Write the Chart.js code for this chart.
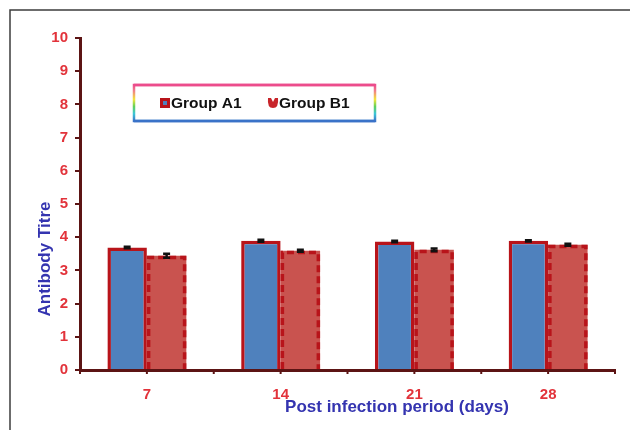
<!DOCTYPE html>
<html>
<head>
<meta charset="utf-8">
<script src="https://cdn.jsdelivr.net/npm/chart.js@4/dist/chart.umd.min.js"></script>
<style>
  html, body { margin: 0; padding: 0; background: #ffffff; }
  #wrap { position: relative; width: 630px; height: 430px; }
  canvas { display: block; }
</style>
</head>
<body>
<div id="wrap"><canvas id="c" width="630" height="430"></canvas></div>
<script>
const categories = ['7', '14', '21', '28'];
const seriesNames = ['Group A1', 'Group B1'];
const groupA1 = [3.69, 3.89, 3.87, 3.89];
const groupB1 = [3.44, 3.59, 3.62, 3.77];
const errA1 = [0.02, 0.03, 0.02, 0.02];
const errB1 = [0.06, 0.03, 0.04, 0.03];
const yMin = 0, yMax = 10, yStep = 1;
const xTitle = 'Post infection period (days)';
const yTitle = 'Antibody Titre';

const FONT = '"Liberation Sans", Arial, sans-serif';
const AXIS = '#5c1414';
const TICKRED = '#e2333b';
const TITLEBLUE = '#3434b0';
const BORDERRED = '#b8141a';

const errors = [errA1, errB1];

const decoPlugin = {
  id: 'deco',
  beforeDraw(chart) {
    const ctx = chart.ctx;
    ctx.save();
    ctx.strokeStyle = '#3c3c3c';
    ctx.lineWidth = 1.5;
    ctx.beginPath();
    ctx.moveTo(10, 430);
    ctx.lineTo(10, 10);
    ctx.lineTo(630, 10);
    ctx.stroke();
    ctx.restore();
  },
  afterDatasetsDraw(chart) {
    const ctx = chart.ctx;
    const ys = chart.scales.y;
    const metaB = chart.getDatasetMeta(1);
    ctx.save();
    ctx.strokeStyle = BORDERRED;
    ctx.lineWidth = 3.5;
    ctx.setLineDash([7, 4]);
    metaB.data.forEach(el => {
      const l = el.x - el.width / 2 + 1.75, r = el.x + el.width / 2 - 1.75;
      const t = el.y + 1.75, b = el.base;
      ctx.beginPath();
      ctx.moveTo(l, b);
      ctx.lineTo(l, t);
      ctx.lineTo(r, t);
      ctx.lineTo(r, b);
      ctx.stroke();
    });
    ctx.restore();
    ctx.save();
    ctx.strokeStyle = '#111';
    ctx.lineWidth = 2.5;
    chart.data.datasets.forEach((ds, di) => {
      const meta = chart.getDatasetMeta(di);
      meta.data.forEach((el, i) => {
        const v = ds.data[i], e = errors[di][i];
        const yt = ys.getPixelForValue(v + e), yb = ys.getPixelForValue(v - e);
        ctx.beginPath();
        ctx.moveTo(el.x, yt); ctx.lineTo(el.x, yb);
        ctx.moveTo(el.x - 3.5, yt); ctx.lineTo(el.x + 3.5, yt);
        ctx.moveTo(el.x - 3.5, yb); ctx.lineTo(el.x + 3.5, yb);
        ctx.stroke();
      });
    });
    ctx.restore();
  },
  afterDraw(chart) {
    const ctx = chart.ctx;
    const xs = chart.scales.x;
    const area = chart.chartArea;
    ctx.save();
    ctx.strokeStyle = AXIS;
    ctx.lineWidth = 2;
    const half = (xs.getPixelForValue(1) - xs.getPixelForValue(0)) / 2;
    for (let k = 0; k <= categories.length * 2; k++) {
      const px = xs.getPixelForValue(0) - half + k * half;
      ctx.beginPath();
      ctx.moveTo(px, area.bottom);
      ctx.lineTo(px, area.bottom + 4);
      ctx.stroke();
    }
    ctx.restore();
    ctx.save();
    ctx.fillStyle = TITLEBLUE;
    ctx.font = 'bold 17px ' + FONT;
    ctx.textAlign = 'center';
    ctx.textBaseline = 'middle';
    ctx.fillText(xTitle, 397, 407);
    ctx.translate(45, 259);
    ctx.rotate(-Math.PI / 2);
    ctx.fillText(yTitle, 0, 0);
    ctx.restore();
    ctx.save();
    const bx = 134, by = 85, bw = 241, bh = 36;
    const g = ctx.createLinearGradient(0, by, 0, by + bh);
    g.addColorStop(0, '#ec4c8c');
    g.addColorStop(0.15, '#f07a8a');
    g.addColorStop(0.4, '#f3e53a');
    g.addColorStop(0.6, '#5fd05a');
    g.addColorStop(0.8, '#3cc6d8');
    g.addColorStop(1, '#3a72c8');
    ctx.lineWidth = 2.5;
    ctx.strokeStyle = g;
    ctx.strokeRect(bx, by, bw, bh);
    ctx.strokeStyle = '#ec4c8c';
    ctx.beginPath(); ctx.moveTo(bx, by); ctx.lineTo(bx + bw, by); ctx.stroke();
    ctx.strokeStyle = '#3a72c8';
    ctx.beginPath(); ctx.moveTo(bx, by + bh); ctx.lineTo(bx + bw, by + bh); ctx.stroke();
    const cy = 103;
    ctx.fillStyle = BORDERRED;
    ctx.fillRect(160, cy - 5, 10, 10);
    ctx.fillStyle = '#4f81bd';
    ctx.fillRect(163, cy - 2, 4, 4);
    ctx.fillStyle = '#c8242a';
    ctx.beginPath();
    ctx.moveTo(268, cy - 5);
    ctx.lineTo(271, cy - 5);
    ctx.lineTo(273, cy - 1);
    ctx.lineTo(275, cy - 5);
    ctx.lineTo(278, cy - 5);
    ctx.quadraticCurveTo(279, cy + 5, 273, cy + 5);
    ctx.quadraticCurveTo(267, cy + 5, 268, cy - 5);
    ctx.fill();
    ctx.fillStyle = '#111';
    ctx.font = 'bold 15.5px ' + FONT;
    ctx.textAlign = 'left';
    ctx.textBaseline = 'middle';
    ctx.fillText(chart.data.datasets[0].label, 171, cy + 1);
    ctx.fillText(chart.data.datasets[1].label, 279, cy + 1);
    ctx.restore();
  }
};

new Chart(document.getElementById('c'), {
  type: 'bar',
  data: {
    labels: categories,
    datasets: [
      {
        label: seriesNames[0],
        data: groupA1,
        backgroundColor: '#4f81bd',
        borderColor: BORDERRED,
        borderWidth: 3.5,
        borderSkipped: 'bottom',
        categoryPercentage: 0.59,
        barPercentage: 1.0
      },
      {
        label: seriesNames[1],
        data: groupB1,
        backgroundColor: '#c9534f',
        borderWidth: 0,
        categoryPercentage: 0.59,
        barPercentage: 1.0
      }
    ]
  },
  options: {
    responsive: false,
    animation: false,
    devicePixelRatio: 1,
    layout: { padding: { top: 38, right: 15, bottom: 0, left: 0 } },
    plugins: {
      legend: { display: false },
      tooltip: { enabled: false },
      title: { display: false }
    },
    scales: {
      x: {
        afterFit(s) { s.height = 60; },
        grid: { display: false },
        border: { display: true, color: AXIS, width: 3 },
        ticks: {
          color: TICKRED,
          font: { family: FONT, size: 15, weight: 'bold' },
          padding: 8,
          maxRotation: 0
        }
      },
      y: {
        min: yMin,
        max: yMax,
        afterFit(s) { s.width = 80; },
        grid: { drawOnChartArea: false, drawTicks: true, tickLength: 5, color: AXIS, lineWidth: 2 },
        border: { display: true, color: AXIS, width: 3 },
        ticks: {
          stepSize: yStep,
          color: TICKRED,
          font: { family: FONT, size: 15, weight: 'bold' },
          padding: 7
        }
      }
    }
  },
  plugins: [decoPlugin]
});
</script>
</body>
</html>
